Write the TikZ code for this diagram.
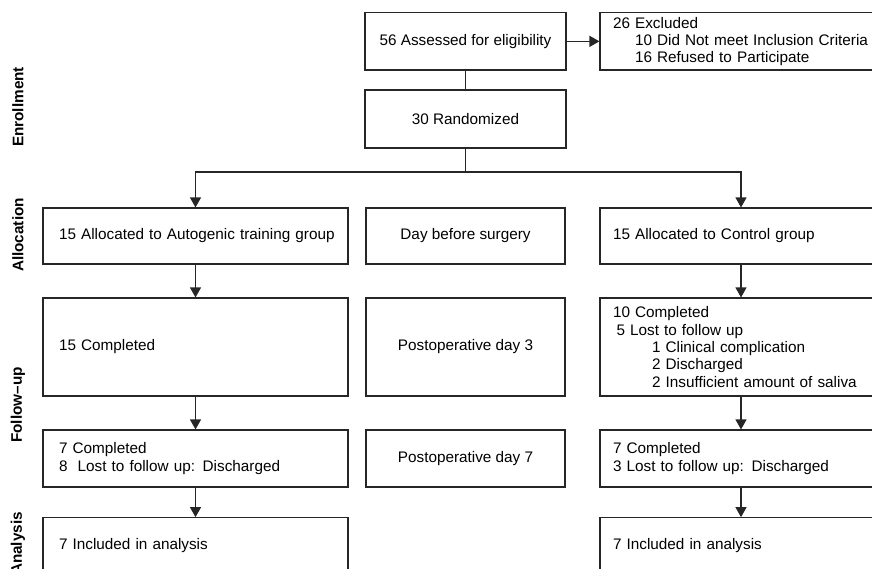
\documentclass[tikz,border=0pt]{standalone}
\usepackage{fontspec}
\setmainfont{Liberation Sans}
\usetikzlibrary{arrows.meta}
\begin{document}
\begin{tikzpicture}[x=1pt,y=-1pt,
  box/.style={draw=black!85, line width=1.1pt, inner ysep=0pt,
    font=\fontsize{15.3}{17.3}\selectfont},
  cbox/.style={box, inner xsep=2pt, align=center},
  lbox/.style={box, inner xsep=16pt, text width=273pt, align=left, minimum width=305pt},
  rbox/.style={box, inner xsep=13pt, text width=256pt, align=left, minimum width=282pt},
  mbox/.style={cbox, minimum width=199pt},
  side/.style={rotate=90, font=\fontsize{15.3}{17.3}\selectfont\bfseries},
  conn/.style={draw=black!85, line width=1.1pt},
  arr/.style={conn, -{Triangle[length=10pt,width=11pt]}}
]
\useasboundingbox (0,0) rectangle (872,568);

% side labels
\node[side] (lenr) at (18,107) {Enrollment};
\node[side] (lall) at (18,235) {Allocation};
\node[side] (lfol) at (18,405) {Follow–up};
\node[side] (lana) at (18,543.5) {Analysis};

% enrollment
\node[cbox, minimum width=201pt, minimum height=57.3pt] (assess) at (465.5,41.35) {56 Assessed for eligibility};
\node[rbox, minimum height=57.3pt] (excl) at (741,41.35) {26 Excluded\\\hspace*{22pt}\mbox{10 Did Not meet Inclusion Criteria}\\\hspace*{22pt}16 Refused to Participate};
\node[cbox, minimum width=201pt, minimum height=58pt] (rand) at (465.5,119) {30 Randomized};

% allocation
\node[lbox, minimum height=56pt] (aL) at (195.5,236) {\mbox{15 Allocated to Autogenic training group}};
\node[mbox, minimum height=56pt] (aM) at (465.5,236) {Day before surgery};
\node[rbox, minimum height=56pt] (aR) at (741,236) {15 Allocated to Control group};

% follow-up day 3
\node[lbox, minimum height=98pt] (fL) at (195.5,347) {15 Completed};
\node[mbox, minimum height=98pt] (fM) at (465.5,347) {Postoperative day 3};
\node[rbox, minimum height=98pt] (fR) at (741,347) {10 Completed\\\hspace*{3.5pt}5 Lost to follow up\\\hspace*{39pt}1 Clinical complication\\\hspace*{39pt}2 Discharged\\\hspace*{39pt}\mbox{2 Insufficient amount of saliva}};

% follow-up day 7
\node[lbox, minimum height=57pt] (gL) at (195.5,458.5) {7 Completed\\8~~Lost to follow up: Discharged};
\node[mbox, minimum height=57pt] (gM) at (465.5,458.5) {Postoperative day 7};
\node[rbox, minimum height=57pt] (gR) at (741,458.5) {7 Completed\\3 Lost to follow up: Discharged};

% analysis
\node[lbox, minimum height=56.6pt] (hL) at (195.5,546) {7 Included in analysis};
\node[rbox, minimum height=56.6pt] (hR) at (741,546) {7 Included in analysis};

% connectors
\draw[arr] (assess.east) -- (excl.west);
\draw[conn] (assess) -- (rand);
\coordinate (split) at (465.5,172);
\draw[arr] (rand.south) -- (split) -| (aL.north);
\draw[arr] (split) -| (aR.north);
\draw[arr] (aL) -- (fL);
\draw[arr] (aR) -- (fR);
\draw[arr] (fL) -- (gL);
\draw[arr] (fR) -- (gR);
\draw[arr] (gL) -- (hL);
\draw[arr] (gR) -- (hR);
\end{tikzpicture}
\end{document}
